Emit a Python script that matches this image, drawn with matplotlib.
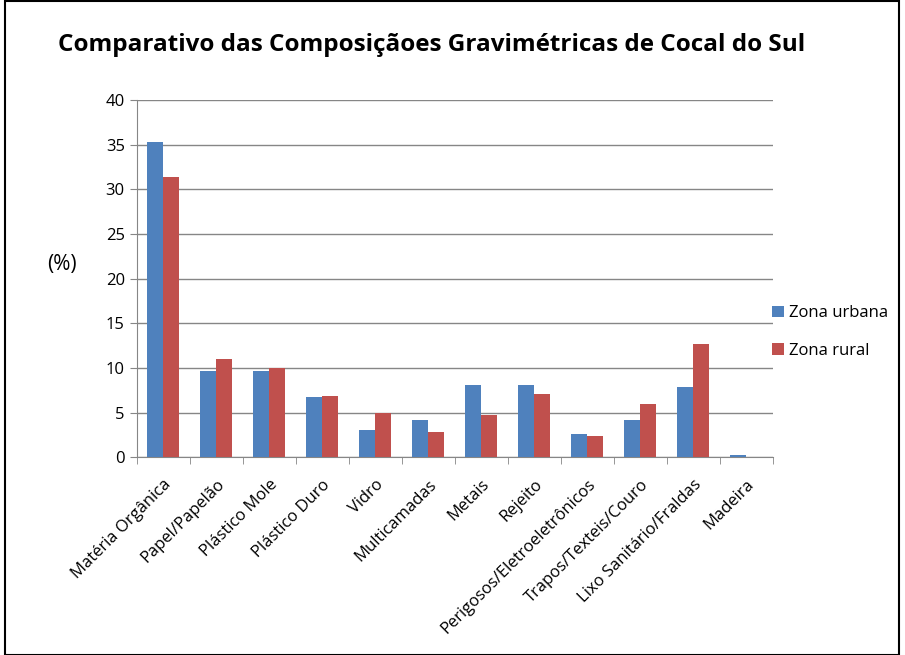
import matplotlib.pyplot as plt
import numpy as np
from matplotlib.ticker import MultipleLocator, FixedLocator
from matplotlib.patches import Rectangle

categorias = ["Matéria Orgânica", "Papel/Papelão", "Plástico Mole", "Plástico Duro",
              "Vidro", "Multicamadas", "Metais", "Rejeito",
              "Perigosos/Eletroeletrônicos", "Trapos/Texteis/Couro",
              "Lixo Sanitário/Fraldas", "Madeira"]
urbana = [35.3, 9.7, 9.7, 6.7, 3.1, 4.2, 8.1, 8.1, 2.6, 4.2, 7.9, 0.3]
rural = [31.4, 10.95, 10.0, 6.9, 4.97, 2.8, 4.74, 7.05, 2.43, 5.97, 12.72, 0.0]

plt.rcParams['font.family'] = ['Open Sans', 'DejaVu Sans']

fig = plt.figure(figsize=(9.05, 6.55), dpi=100)
ax = fig.add_axes([0.151, 0.302, 0.703, 0.545])

x = np.arange(len(categorias))
w = 0.3
ax.bar(x - w / 2, urbana, w, color='#4F81BD', label='Zona urbana', zorder=3)
ax.bar(x + w / 2, rural, w, color='#C0504D', label='Zona rural', zorder=3)

ax.set_xlim(-0.5, len(categorias) - 0.5)
ax.set_ylim(0, 40)
ax.yaxis.set_major_locator(MultipleLocator(5))
ax.set_xticks(x)
ax.set_xticklabels(categorias, rotation=45, ha='right', rotation_mode='anchor', fontsize=12)
ax.xaxis.set_minor_locator(FixedLocator(np.arange(-0.5, len(categorias), 1)))
ax.tick_params(axis='x', which='major', length=0, pad=14)
ax.tick_params(axis='x', which='minor', length=5, color='#868686')
ax.tick_params(axis='y', length=5, color='#868686', labelsize=12)

ax.grid(axis='y', color='#868686', lw=1, zorder=0)
for s in ['top', 'right']:
    ax.spines[s].set_visible(False)
for s in ['left', 'bottom']:
    ax.spines[s].set_color('#868686')

ax.set_ylabel("(%)", rotation=0, fontsize=15)
ax.yaxis.set_label_coords(-0.118, 0.51)

fig.text(0.064, 0.932, "Comparativo das Composiçãoes Gravimétricas de Cocal do Sul",
         fontsize=17.5, fontweight='bold', va='center')

ax.legend(loc='center left', bbox_to_anchor=(0.975, 0.35), frameon=False,
          fontsize=12, handlelength=0.7, handleheight=0.7, handletextpad=0.3,
          labelspacing=1.3)

fig.patches.append(Rectangle((0.006, 0.0), 0.987, 0.998, transform=fig.transFigure,
                             fill=False, edgecolor='black', lw=1.5))

fig.savefig("out.png", dpi=100)
